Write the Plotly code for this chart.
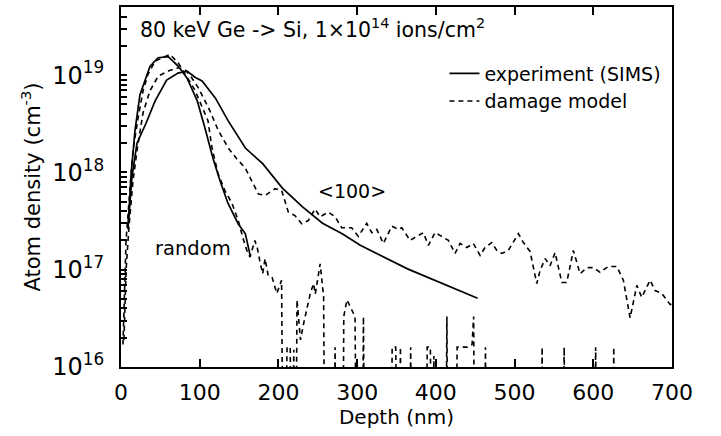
import plotly.graph_objects as go

B = 1e14  # empty histogram bins: drawn below the 1e16 floor

# experiment (SIMS), random incidence
sims_random_depth = [8.9, 12.7, 17.8, 24.1, 36.8, 47, 60, 72.8, 84, 97, 107, 117, 126, 136, 149, 158, 164]
sims_random_density = [2.6e17, 9.3e17, 2.7e18, 6.3e18, 1.23e19, 1.51e19, 1.55e19, 1.23e19, 9.3e18, 5.4e18,
                       2.8e18, 1.38e18, 8.1e17, 4.8e17, 2.95e17, 2.34e17, 1.41e17]

# experiment (SIMS), <100> channel
sims_100_depth = [8.9, 14, 20.3, 31.8, 43.2, 58, 72.4, 84, 94, 103, 120, 136, 158, 180, 205, 231, 256,
                  281, 304, 324, 364, 453]
sims_100_density = [2.7e17, 9.1e17, 2.0e18, 3.2e18, 5.4e18, 8.9e18, 1.05e19, 1.1e19, 9.5e18, 8.7e18,
                    5.8e18, 3.4e18, 1.78e18, 1.23e18, 6.9e17, 4.4e17, 3.0e17, 2.34e17, 1.78e17, 1.48e17,
                    1.02e17, 5.1e16]

# damage model, random incidence
model_random_depth = [2.5, 4.4, 6.4, 10.2, 15.2, 21.6, 28, 34.3, 43.2, 51.7,
                      62.3, 72.8, 85, 94, 97.8, 104, 110.5, 115.6, 123.3, 132,
                      141, 149, 155, 161, 164, 170, 173, 177, 180, 183,
                      187, 192, 198, 204, 206.5, 211, 215, 217, 219.5, 221.6,
                      223.6, 228, 232, 240.5, 244.7, 246.8, 253, 257.4, 259.5, 270,
                      272, 274, 281.5, 283, 287, 295, 297.3, 300, 306, 308,
                      310, 342, 344.5, 349, 351, 353, 355, 357, 366, 368,
                      370, 387, 389, 393, 396, 397.5, 400, 412, 414, 416,
                      425, 427, 440, 446, 448, 450, 461, 463, 465, 533,
                      535, 537, 561, 563, 565, 601, 603, 605, 624, 626,
                      628]
model_random_density = [1.7e16, 7.8e16, 2.0e17, 5.1e17, 1.66e18, 3.6e18, 6.9e18, 1.02e19, 1.39e19, 1.5e19,
                        1.63e19, 1.33e19, 9.3e18, 7.0e18, 5.9e18, 4.6e18, 3.4e18, 1.78e18, 9.7e17, 6.5e17,
                        4.8e17, 3.2e17, 2.1e17, 1.48e17, 1.35e17, 2.0e17, 1.7e17, 1.15e17, 9.1e16, 1.3e17,
                        8.7e16, 8.3e16, 5.7e16, 7.8e16, B, 1.6e16, 1.6e16, B, 1.5e16, B,
                        4.9e16, 1.9e16, 2.8e16, 5.7e16, 7.2e16, 5.6e16, 1.15e17, 5.3e16, B, B,
                        1.6e16, B, B, 3.3e16, 4.9e16, 3.5e16, 3.3e16, B, B, 3.3e16,
                        B, B, 1.6e16, 1.6e16, B, B, 1.6e16, B, B, 1.6e16,
                        B, B, 1.6e16, 1.6e16, B, 1.3e16, B, B, 3.3e16, B,
                        B, 1.6e16, 1.6e16, 1.7e16, 3.3e16, B, B, 1.6e16, B, B,
                        1.6e16, B, B, 1.6e16, B, B, 1.6e16, B, B, 1.6e16,
                        B]

# damage model, <100> channel
model_100_depth = [3.8, 6.4, 10.2, 15.2, 20.3, 28, 36.8, 47.4, 60, 72.8,
                   81.3, 89.8, 98.2, 111.8, 123.6, 136.3, 147, 157.6, 166, 174.5,
                   183, 195.7, 204.2, 212.6, 221, 229.6, 238, 246.5, 253, 263.4,
                   272, 280.4, 293, 301.5, 312.2, 318.6, 324.9, 333.3, 344, 352.4,
                   356.7, 367.2, 375.7, 384.1, 390.5, 399, 407.5, 415.9, 424.4, 430.7,
                   439.3, 447.6, 456.2, 462.5, 471, 477.4, 483.7, 492.1, 504.8, 511.2,
                   519.7, 528.2, 532.4, 538.8, 545.1, 551.5, 560, 566.3, 574.7, 583.2,
                   591.7, 600.1, 608.6, 619.2, 629.9, 638.2, 646.8, 655.3, 661.6, 672.2,
                   678.5, 687, 697.6, 700]
model_100_density = [1.9e16, 9.8e16, 2.8e17, 8.1e17, 1.66e18, 4.1e18, 6.9e18, 9.8e18, 1.1e19, 1.19e19,
                     1.14e19, 9.4e18, 7.4e18, 4.5e18, 2.7e18, 1.78e18, 1.38e18, 1.12e18, 8.2e17, 6.0e17,
                     5.8e17, 6.8e17, 6.5e17, 3.9e17, 3.6e17, 2.97e17, 3.2e17, 4.2e17, 3.5e17, 3.9e17,
                     3.5e17, 2.7e17, 2.7e17, 2.2e17, 3.0e17, 2.4e17, 2.6e17, 1.86e17, 2.8e17, 2.6e17,
                     2.7e17, 2.0e17, 2.2e17, 2.4e17, 1.78e17, 2.4e17, 2.2e17, 2.0e17, 1.47e17, 1.86e17,
                     1.69e17, 1.86e17, 1.40e17, 1.69e17, 1.9e17, 1.58e17, 1.47e17, 1.58e17, 2.35e17, 1.9e17,
                     1.54e17, 7.2e16, 9.8e16, 1.3e17, 1.1e17, 1.5e17, 7.4e16, 7.4e16, 1.58e17, 9.1e16,
                     1.05e17, 1.05e17, 9.4e16, 1.08e17, 1.08e17, 7.8e16, 3.2e16, 6.9e16, 5.2e16, 7.8e16,
                     6.1e16, 5.7e16, 4.4e16, 4.4e16]

x_tick_vals = [0, 100, 200, 300, 400, 500, 600, 700]
y_major_vals = [1e16, 1e17, 1e18, 1e19]
y_major_text = ["10<sup>16</sup>", "10<sup>17</sup>", "10<sup>18</sup>", "10<sup>19</sup>"]
y_minor_vals = [m * 10.0 ** e for e in (16, 17, 18, 19) for m in range(2, 10) if m * 10.0 ** e < 5e19]
y_tick_vals = y_major_vals + y_minor_vals
y_tick_text = y_major_text + [""] * len(y_minor_vals)

FONT = "DejaVu Sans"
DASH = "5px,4px"

fig = go.Figure()
fig.add_trace(go.Scatter(x=sims_random_depth, y=sims_random_density, mode="lines",
                         line=dict(color="black", width=1.7), name="experiment (SIMS)"))
fig.add_trace(go.Scatter(x=sims_100_depth, y=sims_100_density, mode="lines",
                         line=dict(color="black", width=1.7), name="experiment (SIMS)",
                         showlegend=False))
fig.add_trace(go.Scatter(x=model_random_depth, y=model_random_density, mode="lines",
                         line=dict(color="black", width=1.6, dash=DASH), name="damage model"))
fig.add_trace(go.Scatter(x=model_100_depth, y=model_100_density, mode="lines",
                         line=dict(color="black", width=1.6, dash=DASH), name="damage model",
                         showlegend=False))

fig.update_layout(
    width=721, height=436,
    margin=dict(l=121, r=49, t=5, b=69),
    plot_bgcolor="white", paper_bgcolor="white",
    font=dict(family=FONT, color="black"),
    showlegend=True,
    legend=dict(x=0.587, y=0.868, xanchor="left", yanchor="top",
                font=dict(size=19, family=FONT), bgcolor="rgba(0,0,0,0)",
                tracegroupgap=0),
    annotations=[
        dict(text="80 keV Ge -&gt; Si, 1×10<sup>14</sup> ions/cm<sup>2</sup>",
             xref="paper", yref="paper", x=0.031, y=0.94, xanchor="left", yanchor="middle",
             showarrow=False, font=dict(size=20.5, family=FONT)),
        dict(text="&lt;100&gt;", xref="paper", yref="paper", x=0.42, y=0.49,
             xanchor="center", yanchor="middle", showarrow=False, font=dict(size=19, family=FONT)),
        dict(text="random", xref="paper", yref="paper", x=0.131, y=0.329,
             xanchor="center", yanchor="middle", showarrow=False, font=dict(size=19.5, family=FONT)),
    ],
)

fig.update_xaxes(
    range=[0, 700], tickmode="array", tickvals=x_tick_vals,
    ticks="inside", ticklen=8, tickwidth=2, tickcolor="black",
    showline=True, linewidth=2, linecolor="black", mirror="ticks",
    showgrid=False, zeroline=False, layer="above traces",
    tickfont=dict(size=22, family=FONT), ticklabelstandoff=5,
    title=dict(text="Depth (nm)", font=dict(size=20, family=FONT), standoff=6),
)
fig.update_yaxes(
    type="log", range=[16, 19.7], tickmode="array", tickvals=y_tick_vals, ticktext=y_tick_text,
    ticks="inside", ticklen=6, tickwidth=1.5, tickcolor="black",
    showline=True, linewidth=2, linecolor="black", mirror=True,
    showgrid=False, zeroline=False, layer="above traces",
    tickfont=dict(size=24, family=FONT), ticklabelstandoff=10,
    title=dict(text="Atom density (cm<sup>-3</sup>)", font=dict(size=21, family=FONT), standoff=6),
)

fig.write_html("out.html")
